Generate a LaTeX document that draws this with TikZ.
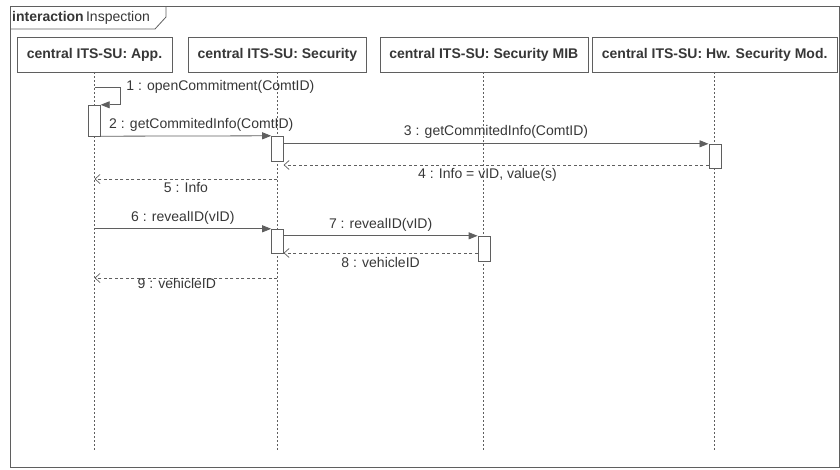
\documentclass[tikz,border=0pt]{standalone}
\usepackage{fontspec}
\setmainfont{Liberation Sans}
\definecolor{LineGray}{RGB}{95, 95, 95}
\definecolor{TextGray}{RGB}{55, 55, 55}
\usetikzlibrary{arrows.meta, positioning, calc}

\begin{document}
\begin{tikzpicture}[x=1pt, y=-1pt,
        head/.style={rectangle, draw=LineGray, fill=white, minimum height=35pt, inner sep=0pt, text=TextGray, font=\bfseries\fontsize{14}{16}\selectfont},
        act/.style={rectangle, draw=LineGray, fill=white, minimum width=12pt, inner sep=0pt},
        life/.style={draw=LineGray, line width=0.9pt, dash pattern=on 2pt off 2pt},
        msg/.style={draw=LineGray, line width=0.8pt, -{Triangle[length=9pt, width=7pt]}},
        reply/.style={draw=LineGray, line width=0.7pt, dash pattern=on 3pt off 2.5pt, -{Straight Barb[length=5pt, width=9pt]}},
        lbl/.style={text=TextGray, inner sep=1.5pt, font=\fontsize{14}{16}\selectfont}
    ]
        \useasboundingbox (0,0) rectangle (840,469);
        \draw[LineGray, line width=1pt] (10,6) rectangle (839,467);
        \draw[LineGray, line width=0.8pt] (10,29) -- (155,29) -- (166,17) -- (166,6);
        \node[anchor=west, inner sep=0pt, text=TextGray, font=\fontsize{14}{16}\selectfont] (title) at (12,17.5) {\textbf{interaction}\,Inspection};

        \node[head, minimum width=155pt] (app) at (94.5,54.5) {central ITS-SU: App.};
        \node[head, minimum width=178pt, right=16pt of app] (sec) {central ITS-SU: Security};
        \node[head, minimum width=208pt, right=13pt of sec] (mib) {central ITS-SU: Security MIB};
        \node[head, minimum width=245pt, right=4pt of mib] (hsm) {central ITS-SU: Hw. Security Mod.};

        \coordinate (bottom) at (0,452);
        \foreach \n in {app,sec,mib,hsm}
            \draw[life] (\n.south) -- (\n.south |- bottom);

        \node[act, minimum height=31pt] (actA) at (app |- 0,120.5) {};
        \node[act, minimum height=25pt] (actS1) at (sec |- 0,148.5) {};
        \node[act, minimum height=24pt] (actH) at (hsm |- 0,156) {};
        \node[act, minimum height=24pt] (actS2) at (sec |- 0,241) {};
        \node[act, minimum height=25pt] (actM) at (mib |- 0,248.5) {};

        \coordinate (m1) at (app |- 0,87);
        \draw[msg] (m1) -- ++(26,0) node[lbl, right=4pt] (l1) {1 : openCommitment(ComtID)} |- (actA.north east);
        \draw[msg] (actA.south east) -- node[lbl, above=3pt, pos=0.59] (l2) {2 : getCommitedInfo(ComtID)} (actS1.north west);
        \draw[msg] (actH.north west -| actS1.east) -- node[lbl, above=3pt] (l3) {3 : getCommitedInfo(ComtID)} (actH.north west);
        \coordinate (r4) at (actH.west |- 0,165);
        \draw[reply] (r4) -- node[lbl, below=2pt, pos=0.52] (l4) {4 : Info = vID, value(s)} (r4 -| actS1.east);
        \draw[reply] (sec |- 0,179) -- node[lbl, below=2pt] (l5) {5 : Info} (app |- 0,179);
        \draw[msg] (app |- actS2.north) -- node[lbl, above=3pt] (l6) {6 : revealID(vID)} (actS2.north west);
        \draw[msg] (actM.north west -| actS2.east) -- node[lbl, above=3pt] (l7) {7 : revealID(vID)} (actM.north west);
        \coordinate (r8) at (actM.west |- 0,253);
        \draw[reply] (r8) -- node[lbl, below=2pt] (l8) {8 : vehicleID} (r8 -| actS2.east);
        \draw[reply] (sec |- 0,278) -- node[lbl, pos=0.55, yshift=-5pt] (l9) {9 : vehicleID} (app |- 0,278);
    \end{tikzpicture}
\end{document}
